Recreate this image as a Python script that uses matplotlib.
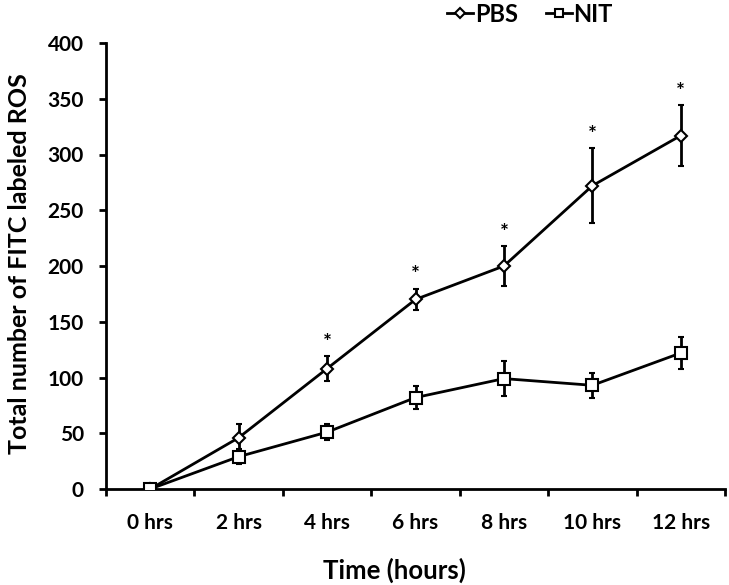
import matplotlib
matplotlib.use("Agg")
import matplotlib.pyplot as plt
from matplotlib.lines import Line2D
import numpy as np

categories = ["0 hrs", "2 hrs", "4 hrs", "6 hrs", "8 hrs", "10 hrs", "12 hrs"]
pbs = [0, 46, 108, 170, 200, 272, 317]
pbs_err = [0, 12, 11, 9.5, 17.5, 33.5, 27]
nit = [0, 29, 51, 82, 99, 93, 122]
nit_err = [0, 7, 7.5, 10, 15.5, 11, 14]
star_idx = [2, 3, 4, 5, 6]
yticks = [0, 50, 100, 150, 200, 250, 300, 350, 400]

plt.rcParams['font.family'] = ['Lato', 'DejaVu Sans']
plt.rcParams['font.weight'] = 'bold'

fig = plt.figure(figsize=(7.29, 5.85), dpi=100)
ax = fig.add_axes([106/729, 1-489/585, (725-106)/729, (489-43)/585])

x = np.arange(len(categories))
ax.errorbar(x, pbs, yerr=pbs_err, color='black', lw=2, marker='D', ms=6,
            mfc='white', mec='black', mew=1.5, ecolor='black', elinewidth=2,
            capsize=2, capthick=2, zorder=3)
ax.errorbar(x, nit, yerr=nit_err, color='black', lw=2, marker='s', ms=8,
            mfc='white', mec='black', mew=1.5, ecolor='black', elinewidth=2,
            capsize=2, capthick=2, zorder=3)

for i in star_idx:
    ax.text(x[i], pbs[i] + pbs_err[i] + 12, "*", ha='center', va='center',
            fontsize=15, fontweight='bold')

ax.set_xlim(-0.5, len(categories) - 0.5)
ax.set_ylim(0, 400)
ax.set_yticks(yticks)
ax.set_xticks(x)
ax.set_xticklabels(categories)
ax.set_xticks(np.arange(len(categories) + 1) - 0.5, minor=True)
ax.tick_params(axis='x', which='major', length=0, pad=17, labelsize=15)
ax.tick_params(axis='x', which='minor', length=5, width=2, direction='out')
ax.tick_params(axis='y', length=5, width=2, direction='out', pad=11, labelsize=15)
for lab in ax.get_xticklabels() + ax.get_yticklabels():
    lab.set_fontweight('bold')

for s in ['top', 'right']:
    ax.spines[s].set_visible(False)
for s in ['left', 'bottom']:
    ax.spines[s].set_linewidth(2)

ax.set_xlabel("Time (hours)", fontsize=18.5, fontweight='bold')
ax.xaxis.set_label_coords((394-106)/619, (489-558)/446)
ax.set_ylabel("Total number of FITC labeled ROS", fontsize=18, fontweight='bold')
ax.yaxis.set_label_coords((31-106)/619, 0.505)

handles = [
    Line2D([], [], color='black', lw=2, marker='D', ms=5, mfc='white', mec='black', mew=1.5),
    Line2D([], [], color='black', lw=2, marker='s', ms=6, mfc='white', mec='black', mew=1.5),
]
fig.legend(handles, ["PBS", "NIT"], loc='center', bbox_to_anchor=(530/729, 1-14/585),
           ncol=2, frameon=False, fontsize=17, handlelength=1.1,
           columnspacing=1.2, handletextpad=0.05, borderpad=0, borderaxespad=0)

fig.savefig("out.png", dpi=100)
